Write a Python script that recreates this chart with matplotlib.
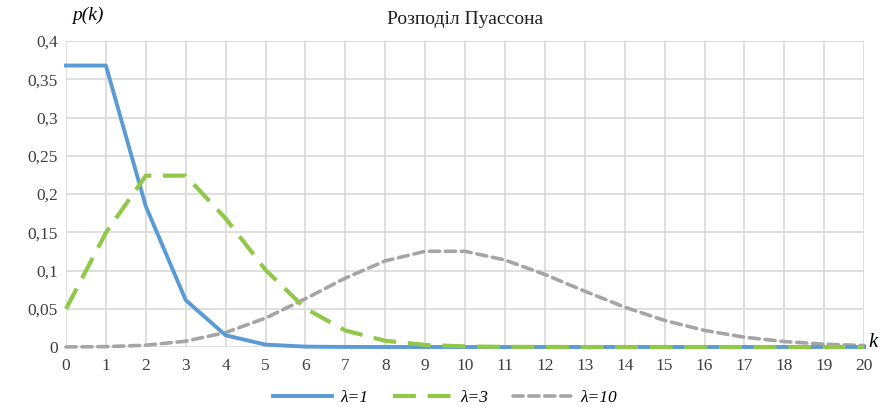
import matplotlib
matplotlib.use("Agg")
import matplotlib.pyplot as plt

k = list(range(21))
p_l1 = [0.3679, 0.3679, 0.1839, 0.0613, 0.0153, 0.0031, 0.0005, 0.0001, 0.0, 0.0,
        0.0, 0.0, 0.0, 0.0, 0.0, 0.0, 0.0, 0.0, 0.0, 0.0, 0.0]
p_l3 = [0.0498, 0.1494, 0.2240, 0.2240, 0.1680, 0.1008, 0.0504, 0.0216, 0.0081, 0.0027,
        0.0008, 0.0002, 0.0001, 0.0, 0.0, 0.0, 0.0, 0.0, 0.0, 0.0, 0.0]
p_l10 = [0.00005, 0.0005, 0.0023, 0.0076, 0.0189, 0.0378, 0.0631, 0.0901, 0.1126, 0.1251,
         0.1251, 0.1137, 0.0948, 0.0729, 0.0521, 0.0347, 0.0217, 0.0128, 0.0071, 0.0037, 0.0019]
labels = ["λ=1", "λ=3", "λ=10"]
yticks = [0, 0.05, 0.1, 0.15, 0.2, 0.25, 0.3, 0.35, 0.4]

plt.rcParams["font.family"] = ["Liberation Serif", "DejaVu Serif"]

fig = plt.figure(figsize=(8.8, 4.08), dpi=100)
ax = fig.add_axes([0.075, 0.1495, 0.907, 0.75])

ax.plot(k, p_l1, color="#5B9BD5", lw=2.8, label=labels[0], zorder=3, clip_on=False)
ax.plot(k, p_l3, color="#92C84A", lw=3.0, dashes=(5.5, 2.8), label=labels[1], zorder=3, clip_on=False)
ax.plot(k, p_l10, color="#A5A5A5", lw=2.6, dashes=(2.8, 1.6), dash_capstyle="round",
        label=labels[2], zorder=2, clip_on=False)

ax.set_xlim(0, 20)
ax.set_ylim(0, 0.4)
ax.set_xticks(k)
ax.set_yticks(yticks)
ax.set_yticklabels([("%g" % v).replace(".", ",") for v in yticks])
ax.grid(True, color="#D9D9D9", lw=1.2)
ax.set_axisbelow(True)
for s in ax.spines.values():
    s.set_visible(False)
ax.tick_params(length=0, labelsize=12.5, colors="#404040", pad=6)
ax.tick_params(axis="x", pad=8)

ax.set_title("Розподіл Пуассона", fontsize=14, color="#202020", pad=12)
fig.text(0.1, 0.962, "p(k)", fontsize=14, style="italic", ha="center", va="center")
fig.text(0.992, 0.16, "k", fontsize=15, style="italic", ha="center", va="center")

fig.legend(loc="center", bbox_to_anchor=(0.506, 0.024), ncol=3, frameon=False,
           prop={"style": "italic", "size": 12.5}, handlelength=3.4, columnspacing=1.4,
           handletextpad=0.5, borderpad=0)

fig.savefig("out.png", dpi=100)
